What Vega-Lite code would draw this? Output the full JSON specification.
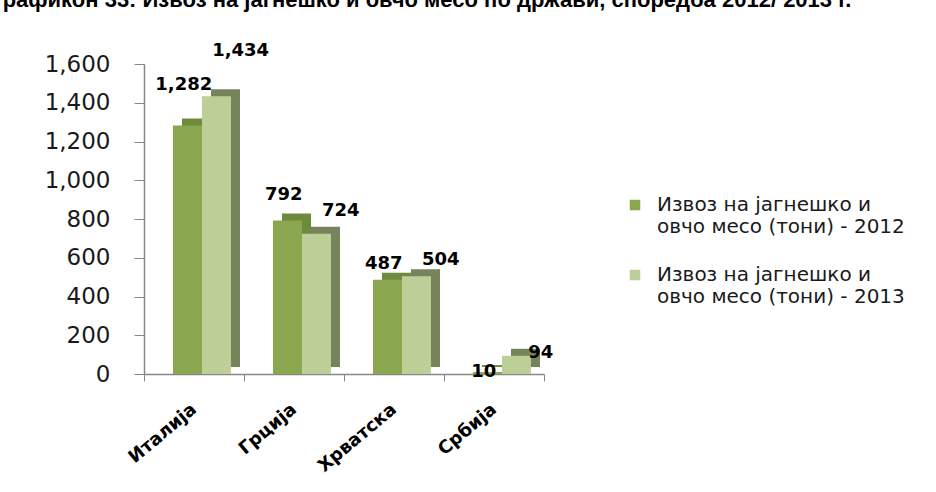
{
  "$schema": "https://vega.github.io/schema/vega-lite/v6.json",
  "width": 400,
  "height": 310,
  "autosize": {"type": "none"},
  "padding": {"left": 144, "top": 64, "right": 392, "bottom": 118},
  "background": "white",
  "config": {"view": {"stroke": null}, "font": "DejaVu Sans"},
  "title": {
    "text": "Графикон 33: Извоз на јагнешко и овчо месо по држави, споредба 2012/ 2013 г.",
    "anchor": "start",
    "frame": "group",
    "font": "Liberation Sans",
    "fontSize": 22,
    "fontWeight": "bold",
    "color": "#000000",
    "baseline": "alphabetic",
    "limit": 1500,
    "dx": -153,
    "offset": 13
  },
  "data": {
    "values": [
      {"country": "Италија", "year": 2012, "series": "Извоз на јагнешко и овчо месо (тони) - 2012", "value": 1282},
      {"country": "Италија", "year": 2013, "series": "Извоз на јагнешко и овчо месо (тони) - 2013", "value": 1434},
      {"country": "Грција", "year": 2012, "series": "Извоз на јагнешко и овчо месо (тони) - 2012", "value": 792},
      {"country": "Грција", "year": 2013, "series": "Извоз на јагнешко и овчо месо (тони) - 2013", "value": 724},
      {"country": "Хрватска", "year": 2012, "series": "Извоз на јагнешко и овчо месо (тони) - 2012", "value": 487},
      {"country": "Хрватска", "year": 2013, "series": "Извоз на јагнешко и овчо месо (тони) - 2013", "value": 504},
      {"country": "Србија", "year": 2012, "series": "Извоз на јагнешко и овчо месо (тони) - 2012", "value": 10},
      {"country": "Србија", "year": 2013, "series": "Извоз на јагнешко и овчо месо (тони) - 2013", "value": 94}
    ]
  },
  "encoding": {
    "x": {
      "field": "country",
      "type": "nominal",
      "sort": null,
      "scale": {"paddingInner": 0, "paddingOuter": 0},
      "axis": {
        "title": null,
        "labelAngle": -40,
        "labelFontSize": 18,
        "labelFontWeight": "bold",
        "labelColor": "#000000",
        "tickBand": "extent",
        "tickSize": 7,
        "tickColor": "#868686",
        "domainColor": "#868686",
        "domainWidth": 1.5,
        "labelPadding": 19,
        "labelOffset": -6
      }
    }
  },
  "layer": [
    {
      "mark": {"type": "bar", "yOffset": -7},
      "encoding": {
        "xOffset": {
          "field": "series",
          "type": "nominal",
          "scale": {"paddingInner": 0, "paddingOuter": 0.724, "align": 0.905}
        },
        "y": {
          "field": "value",
          "type": "quantitative",
          "scale": {"domain": [0, 1600], "nice": false},
          "axis": null
        },
        "color": {
          "condition": {"test": "datum.year == 2012", "value": "#6E8A3C"},
          "value": "#76845C"
        }
      }
    },
    {
      "mark": {"type": "bar"},
      "encoding": {
        "xOffset": {
          "field": "series",
          "type": "nominal",
          "scale": {"paddingInner": 0, "paddingOuter": 0.724, "align": 0.69}
        },
        "y": {
          "field": "value",
          "type": "quantitative",
          "scale": {"domain": [0, 1600], "nice": false},
          "axis": {
            "title": null,
            "values": [0, 200, 400, 600, 800, 1000, 1200, 1400, 1600],
            "format": ",d",
            "grid": false,
            "labelFontSize": 23,
            "labelColor": "#1a1a1a",
            "tickSize": 10,
            "tickColor": "#868686",
            "domainColor": "#868686",
            "domainWidth": 1.5,
            "labelPadding": 24
          }
        },
        "color": {
          "field": "series",
          "type": "nominal",
          "scale": {"range": ["#8AA64E", "#BDCF96"]},
          "legend": {
            "title": null,
            "orient": "none",
            "legendX": 481,
            "legendY": 131,
            "symbolType": "square",
            "symbolSize": 110,
            "symbolStrokeWidth": 0,
            "labelFontSize": 20,
            "labelColor": "#1a1a1a",
            "labelLimit": 400,
            "labelOffset": 12,
            "rowPadding": 28,
            "labelExpr": "[substring(datum.label, 0, 19), substring(datum.label, 20)]"
          }
        }
      }
    },
    {
      "transform": [{"filter": "datum.year == 2012"}],
      "mark": {"type": "text", "fontWeight": "bold", "fontSize": 18, "color": "#000000", "dx": -1, "baseline": "middle"},
      "encoding": {
        "xOffset": {
          "field": "series",
          "type": "nominal",
          "scale": {"domain": ["Извоз на јагнешко и овчо месо (тони) - 2012", "Извоз на јагнешко и овчо месо (тони) - 2013"], "paddingInner": 0, "paddingOuter": 0.724, "align": 0.69}
        },
        "y": {"field": "value", "type": "quantitative", "scale": {"domain": [0, 1375], "nice": false}, "axis": null},
        "text": {"field": "value", "type": "quantitative", "format": ","}
      }
    },
    {
      "transform": [{"filter": "datum.year == 2013"}],
      "mark": {"type": "text", "fontWeight": "bold", "fontSize": 18, "color": "#000000", "dx": 15, "baseline": "middle"},
      "encoding": {
        "xOffset": {
          "field": "series",
          "type": "nominal",
          "scale": {"domain": ["Извоз на јагнешко и овчо месо (тони) - 2012", "Извоз на јагнешко и овчо месо (тони) - 2013"], "paddingInner": 0, "paddingOuter": 0.724, "align": 0.69}
        },
        "y": {"field": "value", "type": "quantitative", "scale": {"domain": [0, 1375], "nice": false}, "axis": null},
        "text": {"field": "value", "type": "quantitative", "format": ","}
      }
    }
  ],
  "resolve": {"scale": {"y": "independent", "xOffset": "independent"}}
}
